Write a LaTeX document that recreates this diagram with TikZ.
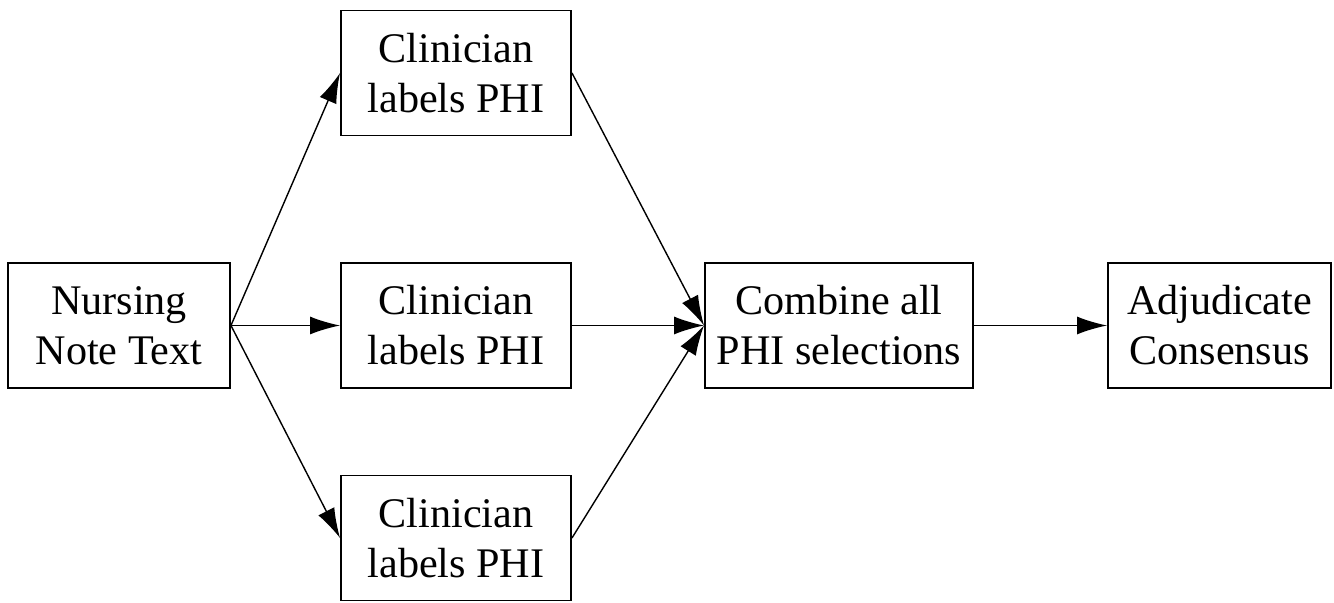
\documentclass[tikz,border=0pt]{standalone}
\usepackage{fontspec}
\setmainfont{Liberation Serif}
\usetikzlibrary{arrows.meta}

\begin{document}
\begin{tikzpicture}[thin,
      every node/.style={font=\fontsize{24}{28.5}\selectfont,align=center},
      stepbox/.style={draw,line width=1.1pt,minimum height=2.5cm,inner sep=0mm},
      flow/.style={line width=0.8pt,-{Latex[length=6mm,width=3.6mm]}}]
      \useasboundingbox (0,0) rectangle (26.68,12.04);

      \node[stepbox,minimum width=4.44cm] (note) at (2.38,5.53) {Nursing\\Note Text};
      \node[stepbox,minimum width=4.6cm] (top) at (9.12,10.58) {Clinician\\labels PHI};
      \node[stepbox,minimum width=4.6cm] (mid) at (9.12,5.53) {Clinician\\labels PHI};
      \node[stepbox,minimum width=4.6cm] (bot) at (9.12,1.28) {Clinician\\labels PHI};
      \node[stepbox,minimum width=5.36cm] (comb) at (16.78,5.53) {Combine all\\PHI selections};
      \node[stepbox,minimum width=4.46cm] (adj) at (24.39,5.53) {Adjudicate\\Consensus};

      \foreach \c in {top,mid,bot} {
        \draw[flow] (note.east) -- (\c.west);
        \draw[flow] (\c.east) -- (comb.west);
      }
      \draw[flow] (comb.east) -- (adj.west);
    \end{tikzpicture}
\end{document}
